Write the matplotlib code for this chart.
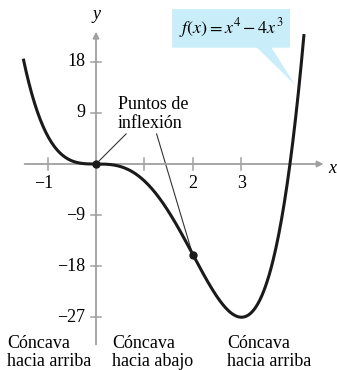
import matplotlib.pyplot as plt
import numpy as np
from matplotlib.patches import Polygon

# data
x_curve = np.linspace(-1.5, 4.29, 300)
y_curve = x_curve ** 4 - 4 * x_curve ** 3
infl_x = [0, 2]
infl_y = [0, -16]
xticks = [-1, 1, 2, 3]
xtick_labels = ['\u22121', '', '2', '3']
yticks = [18, 9, -9, -18, -27]
ytick_labels = ['18', '9', '\u22129', '\u221218', '\u221227']
concave_labels = ['C\u00f3ncava\nhacia arriba', 'C\u00f3ncava\nhacia abajo', 'C\u00f3ncava\nhacia arriba']
concave_x = [-1.84, 0.33, 2.7]

plt.rcParams['font.family'] = ['Liberation Serif', 'DejaVu Serif']
fs = 13

fig = plt.figure(figsize=(3.37, 3.70), dpi=100)
ax = fig.add_axes([0, 0, 1, 1])
ax.set_xlim(-1.98, 4.97)
ax.set_ylim(-36.3, 28.9)
ax.axis('off')

axis_col = '#a0a0a0'
# axes with arrows
ax.annotate('', xy=(4.75, 0), xytext=(-1.53, 0),
            arrowprops=dict(arrowstyle='-|>', color=axis_col, lw=1.3, mutation_scale=9))
ax.annotate('', xy=(0, 23.8), xytext=(0, -32.3),
            arrowprops=dict(arrowstyle='-|>', color=axis_col, lw=1.3, mutation_scale=9))
ax.text(4.88, -0.8, 'x', style='italic', fontsize=fs, ha='center', va='center')
ax.text(0, 26.3, 'y', style='italic', fontsize=fs, ha='center', va='center')

# ticks
for xt, lab in zip(xticks, xtick_labels):
    ax.plot([xt, xt], [-1.1, 1.1], color=axis_col, lw=1.1)
    ax.text(xt - (0.08 if xt < 0 else 0), -3.4, lab, fontsize=fs, ha='center', va='center')
for yt, lab in zip(yticks, ytick_labels):
    ax.plot([-0.11, 0.11], [yt, yt], color=axis_col, lw=1.1)
    ax.text(-0.22, yt, lab, fontsize=fs, ha='right', va='center')

# curve
ax.plot(x_curve, y_curve, color='#1a1a1a', lw=2.2, solid_capstyle='butt', zorder=3)
ax.plot(infl_x, infl_y, 'o', color='#1a1a1a', ms=5, zorder=4)

# inflection labels
ax.text(0.45, 8.8, 'Puntos de\ninflexi\u00f3n', fontsize=fs, ha='left', va='center',
        linespacing=1.2)
ax.plot([0.62, 0.07], [5.3, 0.6], color='#333333', lw=0.8)
ax.plot([1.25, 1.97], [5.3, -15.3], color='#333333', lw=0.8)

# callout
bx0, bx1, by0, by1 = 1.57, 4.0, 20.5, 27.3
box = Polygon([(bx0, by0), (bx0, by1), (bx1, by1), (bx1, by0), (3.62, by0),
               (4.1, 14.0), (3.32, by0)], closed=True, facecolor='#c9edf9',
              edgecolor='none', zorder=1)
ax.add_patch(box)
ax.text(2.78, 24.0, r'$f(x) = x^4 - 4x^3$', fontsize=fs, ha='center', va='center',
        math_fontfamily='stix', zorder=2)

# concavity labels
for cx, lab in zip(concave_x, concave_labels):
    ax.text(cx, -33.2, lab, fontsize=fs, ha='left', va='center', linespacing=1.1)

fig.savefig('out.png', dpi=100)
